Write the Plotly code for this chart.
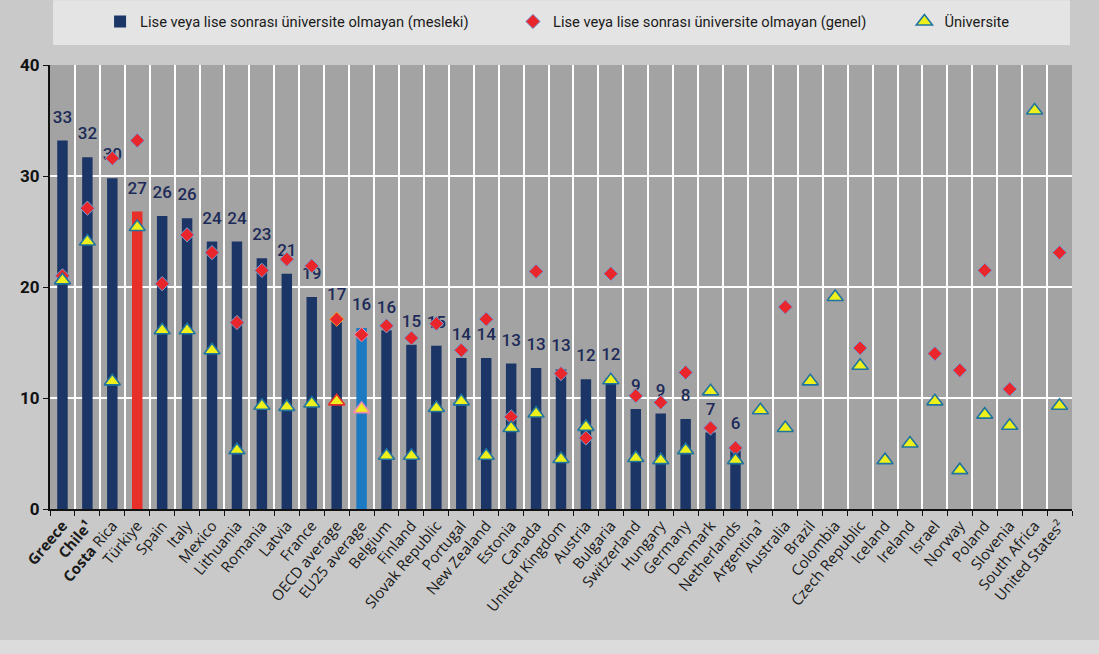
import plotly.graph_objects as go

countries = ["<b>Greece</b>", "<b>Chile¹</b>", "<b>Costa</b> Rica", "Türkiye", "Spain", "Italy", "Mexico",
             "Lithuania", "Romania", "Latvia", "France", "OECD average", "EU25 average", "Belgium",
             "Finland", "Slovak Republic", "Portugal", "New Zealand", "Estonia", "Canada",
             "United Kingdom", "Austria", "Bulgaria", "Switzerland", "Hungary", "Germany", "Denmark",
             "Netherlands", "Argentina¹", "Australia", "Brazil", "Colombia", "Czech Republic",
             "Iceland", "Ireland", "Israel", "Norway", "Poland", "Slovenia", "South Africa",
             "United States²"]

vocational = [33.2, 31.7, 29.8, 26.8, 26.4, 26.2, 24.1, 24.1, 22.6, 21.2, 19.1, 17.2, 16.3, 16.1,
              14.8, 14.7, 13.6, 13.6, 13.1, 12.7, 12.6, 11.7, 11.8, 9.0, 8.6, 8.1, 6.9, 5.6,
              None, None, None, None, None, None, None, None, None, None, None, None, None]

general = [21.0, 27.1, 31.6, 33.2, 20.3, 24.7, 23.1, 16.8, 21.5, 22.5, 21.9, 17.1, 15.7, 16.5,
           15.4, 16.7, 14.3, 17.1, 8.3, 21.4, 12.2, 6.4, 21.2, 10.2, 9.6, 12.3, 7.3, 5.5,
           None, 18.2, None, None, 14.5, None, None, 14.0, 12.5, 21.5, 10.8, None, 23.1]

university = [20.6, 24.1, 11.5, 25.4, 16.1, 16.1, 14.3, 5.3, 9.3, 9.2, 9.5, 9.7, 9.0, 4.8,
              4.8, 9.1, 9.7, 4.8, 7.3, 8.6, 4.5, 7.4, 11.6, 4.6, 4.4, 5.3, 10.6, 4.4,
              8.9, 7.3, 11.5, 19.1, 12.9, 4.4, 5.9, 9.7, 3.5, 8.5, 7.5, 35.9, 9.3]

legend_names = ["Lise veya lise sonrası üniversite olmayan (mesleki)",
                "Lise veya lise sonrası üniversite olmayan (genel)",
                "Üniversite"]

NAVY = "#1b3566"
bar_colors = []
for c in countries:
    if c == "Türkiye":
        bar_colors.append("#e8302a")
    elif c == "EU25 average":
        bar_colors.append("#1c7ac2")
    else:
        bar_colors.append(NAVY)

dia_line = []
tri_line = []
for c in countries:
    if c == "OECD average":
        dia_line.append("#f0a030"); tri_line.append("#e8302a")
    elif c == "EU25 average":
        dia_line.append("#f08cb0"); tri_line.append("#f08cb0")
    else:
        dia_line.append("#6fa3d8"); tri_line.append("#1f74a0")

bar_labels = ["" if v is None else "{:.0f}".format(v) for v in vocational]

fig = go.Figure()
fig.add_trace(go.Bar(x=countries, y=vocational, name=legend_names[0], legend="legend",
                     marker=dict(color=bar_colors, line=dict(width=0)), width=0.42,
                     hoverinfo="skip"))
fig.add_trace(go.Scatter(x=countries, y=vocational, mode="markers+text", text=bar_labels,
                         textposition="top center", showlegend=False, hoverinfo="skip",
                         marker=dict(size=20, color="rgba(0,0,0,0)"),
                         textfont=dict(family="Roboto", size=17, color="#1c2a58", weight=500)))
fig.add_trace(go.Scatter(x=countries, y=general, mode="markers", name=legend_names[1],
                         legend="legend2",
                         marker=dict(symbol="diamond", size=11, color="#e8262b",
                                     line=dict(color=dia_line, width=1)), hoverinfo="skip"))
fig.add_trace(go.Scatter(x=countries, y=university, mode="markers", name=legend_names[2],
                         legend="legend3",
                         marker=dict(symbol="triangle-up", size=14, color="#eef01c",
                                     line=dict(color=tri_line, width=1.6)), hoverinfo="skip"))

leg_common = dict(orientation="h", xanchor="left", y=1.097, yanchor="middle",
                  bgcolor="rgba(0,0,0,0)", itemclick=False, itemdoubleclick=False,
                  font=dict(family="Roboto", size=14.7, color="#1a1a1a"))

fig.update_layout(
    width=1099, height=654,
    margin=dict(l=50, r=27, t=65, b=145, autoexpand=False),
    paper_bgcolor="#c9c9c9", plot_bgcolor="#a3a3a3",
    showlegend=True,
    legend=dict(x=0.049, **leg_common),
    legend2=dict(x=0.453, **leg_common),
    legend3=dict(x=0.836, **leg_common),
    shapes=[dict(type="rect", xref="paper", yref="paper", x0=0.003, x1=0.998, y0=1.045, y1=1.146,
                 fillcolor="#e4e4e4", line=dict(width=0), layer="below"),
            dict(type="rect", xref="paper", yref="paper", x0=-0.05, x1=1.03, y0=-0.327, y1=-0.295,
                 fillcolor="#dcdcdc", line=dict(width=0), layer="below")],
    bargap=0.5,
)
fig.update_xaxes(type="category", range=[-0.5, len(countries) - 0.5], tickson="boundaries",
                 ticks="outside", ticklen=5,
                 tickcolor="#111", showgrid=True, gridcolor="white", gridwidth=1.5,
                 showline=True, linecolor="#111", linewidth=2, tickangle=-50, automargin=False,
                 tickfont=dict(family="Open Sans", size=15, color="#1a1a1a"), fixedrange=True)
fig.update_yaxes(range=[0, 40], dtick=10, ticks="outside", ticklen=5, tickcolor="#111",
                 showgrid=True, gridcolor="white", gridwidth=1.5, showline=True,
                 linecolor="#111", linewidth=2, zeroline=False, automargin=False,
                 tickfont=dict(family="Roboto", size=17, color="#111", weight="bold"))

fig.write_html("out.html", config={"displayModeBar": False},
               post_script="document.body.style.margin='0';")
